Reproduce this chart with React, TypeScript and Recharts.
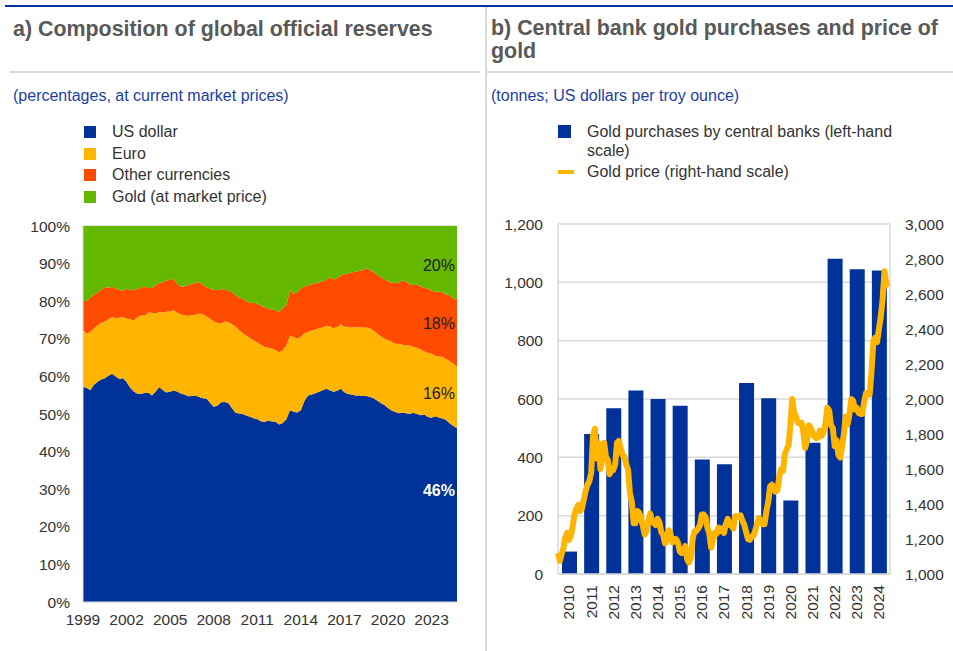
import React from 'react';
import {
  AreaChart,
  Area,
  BarChart,
  Bar,
  LineChart,
  Line,
  XAxis,
  YAxis,
  CartesianGrid,
} from 'recharts';

const FONT = 'Arial, "Liberation Sans", sans-serif';
const BLUE = '#003299';
const YELLOW = '#FFB400';
const ORANGE = '#FF4B00';
const GREEN = '#65B800';
const GRID = '#d9d9d9';
const TEXT = '#333333';

// ---- panel a: quarterly shares, 1999 Q1 - 2024 Q4 ----
const reserveQuarters = Array.from({ length: 104 }, (_, i) => 1999 + i / 4);

const usdShare = [
  57.2, 57.0, 56.3, 57.8, 58.6, 59.2, 59.5, 60.2, // 1999-2000
  60.7, 60.0, 59.3, 59.5, 58.5, 57.0, 56.0, 55.4, // 2001-2002
  55.4, 55.6, 55.7, 54.9, 56.0, 57.2, 56.3, 55.7, // 2003-2004
  56.0, 56.2, 56.0, 55.4, 55.2, 54.7, 54.8, 54.9, // 2005-2006
  54.5, 54.2, 54.1, 53.0, 51.9, 52.2, 53.1, 53.2, // 2007-2008
  52.9, 51.6, 50.3, 50.1, 50.0, 49.6, 49.3, 48.9, // 2009-2010
  48.6, 48.1, 47.9, 48.3, 48.0, 48.0, 47.2, 47.6, // 2011-2012
  48.6, 51.0, 50.6, 50.4, 51.0, 53.5, 54.9, 55.2, // 2013-2014
  55.5, 55.9, 56.3, 56.7, 56.3, 55.9, 56.2, 56.7, // 2015-2016
  55.8, 55.3, 55.2, 54.9, 54.9, 54.8, 54.8, 54.6, // 2017-2018
  54.2, 53.6, 52.9, 52.4, 51.6, 50.9, 50.5, 50.2, // 2019-2020
  50.4, 50.2, 50.0, 50.3, 50.0, 49.7, 49.9, 49.2, // 2021-2022
  49.0, 49.4, 49.1, 48.8, 48.4, 47.5, 46.8, 46.2, // 2023-2024
];

const eurShare = [
  15.1, 14.4, 15.5, 15.0, 15.0, 15.0, 15.1, 15.0,
  15.1, 15.5, 16.3, 16.3, 16.9, 18.2, 18.9, 20.4,
  20.8, 20.6, 21.3, 22.0, 20.7, 19.9, 20.7, 21.5,
  21.3, 21.4, 20.9, 21.1, 21.0, 21.4, 21.5, 21.5,
  22.2, 22.3, 21.9, 22.3, 22.8, 22.0, 21.0, 21.4,
  21.6, 22.3, 23.0, 22.2, 21.5, 21.3, 20.9, 20.7,
  20.4, 20.3, 20.0, 19.3, 19.4, 19.0, 19.2, 19.4,
  19.7, 19.8, 19.9, 19.6, 19.6, 18.0, 16.9, 17.0,
  17.0, 16.9, 16.7, 16.8, 17.0, 16.9, 17.0, 17.2,
  17.4, 17.9, 17.9, 18.2, 18.2, 18.2, 18.2, 18.2,
  18.0, 17.8, 17.8, 17.7, 18.1, 18.3, 18.2, 18.5,
  18.0, 18.1, 18.2, 17.5, 17.6, 17.5, 16.7, 17.1,
  17.0, 16.1, 16.2, 16.4, 16.2, 16.5, 16.6, 16.3,
];

const otherShare = [
  7.9, 8.6, 9.2, 8.9, 8.7, 8.8, 9.2, 8.4,
  8.0, 7.9, 7.4, 7.0, 7.9, 7.8, 8.0, 7.5,
  7.4, 7.8, 6.5, 6.6, 7.6, 7.7, 8.1, 8.3,
  8.4, 8.4, 7.6, 7.3, 7.8, 8.2, 8.3, 8.5,
  8.4, 7.8, 7.8, 8.1, 8.3, 8.7, 9.2, 8.4,
  8.4, 8.5, 8.3, 8.7, 9.1, 9.1, 9.4, 9.9,
  10.4, 10.4, 10.5, 10.4, 10.4, 10.6, 10.8, 11.0,
  10.7, 12.1, 11.5, 12.4, 12.8, 12.5, 12.4, 12.3,
  12.3, 12.2, 12.3, 12.3, 13.0, 13.0, 13.0, 13.0,
  14.0, 14.2, 14.5, 14.8, 14.9, 15.3, 15.7, 15.5,
  15.6, 15.6, 15.7, 15.7, 15.6, 15.8, 16.1, 16.3,
  17.1, 16.9, 16.4, 16.5, 16.8, 16.8, 16.9, 17.1,
  16.8, 17.0, 17.3, 17.1, 17.2, 17.5, 17.4, 17.8,
];

const goldShare = [
  19.8, 20.0, 19.0, 18.3, 17.7, 17.0, 16.2, 16.4,
  16.2, 16.6, 17.0, 17.2, 16.7, 17.0, 17.1, 16.7,
  16.4, 16.0, 16.5, 16.5, 15.7, 15.2, 14.9, 14.5,
  14.3, 14.0, 15.5, 16.2, 16.0, 15.7, 15.4, 15.1,
  14.9, 15.7, 16.2, 16.6, 17.0, 17.1, 16.7, 17.0,
  17.1, 17.6, 18.4, 19.0, 19.4, 20.0, 20.4, 20.5,
  20.6, 21.2, 21.6, 22.0, 22.2, 22.4, 22.8, 22.0,
  21.0, 17.1, 18.0, 17.6, 16.6, 16.0, 15.8, 15.5,
  15.2, 15.0, 14.7, 14.2, 13.7, 14.2, 13.8, 13.1,
  12.8, 12.6, 12.4, 12.1, 12.0, 11.7, 11.3, 11.7,
  12.2, 13.0, 13.6, 14.2, 14.7, 15.0, 15.2, 15.0,
  14.5, 14.8, 15.4, 15.7, 15.6, 16.0, 16.5, 16.6,
  17.2, 17.5, 17.4, 17.7, 18.2, 18.5, 19.2, 19.7,
];

const reserveYearTicks = [1999, 2002, 2005, 2008, 2011, 2014, 2017, 2020, 2023];
const shareTicks = [0, 10, 20, 30, 40, 50, 60, 70, 80, 90, 100];

// ---- panel b ----
const purchaseYears = [2010, 2011, 2012, 2013, 2014, 2015, 2016, 2017, 2018, 2019, 2020, 2021, 2022, 2023, 2024];
const goldPurchases = [77, 480, 568, 629, 600, 577, 393, 376, 655, 603, 252, 450, 1081, 1045, 1041];

// monthly, Jan 2010 - Dec 2024
const goldPrice = [
  1120, 1075, 1115, 1150, 1210, 1235, 1195, 1220, 1275, 1345, 1375, 1395, // 2010
  1360, 1375, 1425, 1475, 1510, 1530, 1580, 1790, 1830, 1660, 1745, 1600, // 2011
  1660, 1750, 1670, 1650, 1570, 1600, 1595, 1625, 1750, 1760, 1720, 1680, // 2012
  1670, 1625, 1595, 1460, 1415, 1290, 1290, 1360, 1350, 1320, 1275, 1225, // 2013
  1245, 1300, 1345, 1300, 1290, 1280, 1315, 1295, 1240, 1225, 1175, 1200, // 2014
  1250, 1230, 1180, 1200, 1200, 1180, 1130, 1120, 1125, 1160, 1085, 1065, // 2015
  1095, 1200, 1245, 1245, 1260, 1280, 1340, 1340, 1325, 1265, 1235, 1150, // 2016
  1195, 1235, 1230, 1265, 1245, 1260, 1235, 1285, 1315, 1280, 1280, 1260, // 2017
  1330, 1330, 1325, 1335, 1305, 1280, 1240, 1200, 1195, 1215, 1220, 1250, // 2018
  1290, 1320, 1300, 1285, 1285, 1360, 1415, 1500, 1510, 1495, 1470, 1480, // 2019
  1560, 1600, 1590, 1685, 1715, 1735, 1850, 2000, 1920, 1900, 1865, 1860, // 2020
  1865, 1810, 1720, 1760, 1850, 1835, 1810, 1785, 1775, 1780, 1820, 1790, // 2021
  1815, 1860, 1950, 1935, 1850, 1835, 1730, 1765, 1680, 1665, 1725, 1800, // 2022
  1900, 1855, 1910, 2000, 1990, 1940, 1950, 1920, 1915, 1915, 1985, 2035, // 2023
  2035, 2025, 2160, 2330, 2350, 2325, 2400, 2470, 2570, 2730, 2650, 2640, // 2024
];

const tonnesTicks = [0, 200, 400, 600, 800, 1000, 1200];
const priceTicks = [1000, 1200, 1400, 1600, 1800, 2000, 2200, 2400, 2600, 2800, 3000];
const yearBoundaries = [2010, 2011, 2012, 2013, 2014, 2015, 2016, 2017, 2018, 2019, 2020, 2021, 2022, 2023, 2024, 2025];

const reserveData = reserveQuarters.map((t, i) => ({
  t,
  usd: usdShare[i],
  eur: eurShare[i],
  other: otherShare[i],
  gold: goldShare[i],
}));

const purchaseData = purchaseYears.map((year, i) => ({ year: String(year), tonnes: goldPurchases[i] }));
const priceData = goldPrice.map((price, i) => ({ t: 2010 + i / 12, price }));

const last = reserveQuarters.length - 1;
const pct = (arr: number[]) => `${Math.round(arr[last])}%`;

const endLabel = (text: string, shift: number, color: string, bold = false) => (props: any) => {
  if (props.index !== last) return null;
  const x = props.x ?? props.viewBox?.x;
  const y = props.y ?? props.viewBox?.y;
  return (
    <text
      x={x - 2}
      y={y + shift}
      dy="0.35em"
      textAnchor="end"
      fill={color}
      fontSize={16}
      fontWeight={bold ? 700 : 400}
      fontFamily={FONT}
    >
      {text}
    </text>
  );
};

const YearTick = (props: any) => {
  const { x, y, payload } = props;
  return (
    <text
      x={x}
      y={y}
      transform={`rotate(-90, ${x}, ${y})`}
      textAnchor="end"
      dy="0.35em"
      fontSize={15.5}
      fill={TEXT}
      fontFamily={FONT}
    >
      {payload.value}
    </text>
  );
};

const tickStyle = { fontSize: 15.5, fill: TEXT, fontFamily: FONT };

const Square = ({ color }: { color: string }) => (
  <span style={{ display: 'inline-block', width: 12, height: 12, background: color }} />
);

const App: React.FC = () => {
  const legendA = [
    { label: 'US dollar', color: BLUE },
    { label: 'Euro', color: YELLOW },
    { label: 'Other currencies', color: ORANGE },
    { label: 'Gold (at market price)', color: GREEN },
  ];

  return (
    <div
      style={{
        position: 'absolute',
        left: 0,
        top: 0,
        width: 953,
        height: 651,
        background: '#fff',
        fontFamily: FONT,
        overflow: 'hidden',
      }}
    >
      {/* frame lines */}
      <div style={{ position: 'absolute', left: 5, top: 5, width: 948, height: 2, background: BLUE }} />
      <div style={{ position: 'absolute', left: 10, top: 71, width: 470, height: 2, background: GRID }} />
      <div style={{ position: 'absolute', left: 487, top: 71, width: 466, height: 2, background: GRID }} />
      <div style={{ position: 'absolute', left: 485, top: 7, width: 2, height: 644, background: GRID }} />

      {/* titles */}
      <div style={{ position: 'absolute', left: 13, top: 17, fontSize: 21.4, fontWeight: 700, color: '#595959', lineHeight: '24px' }}>
        a) Composition of global official reserves
      </div>
      <div style={{ position: 'absolute', left: 491, top: 17, fontSize: 21.4, fontWeight: 700, color: '#595959', lineHeight: '23px' }}>
        b) Central bank gold purchases and price of
        <br />
        gold
      </div>
      <div style={{ position: 'absolute', left: 13, top: 86, fontSize: 16, color: '#1a3fa6', lineHeight: '20px' }}>
        (percentages, at current market prices)
      </div>
      <div style={{ position: 'absolute', left: 491, top: 86, fontSize: 16, color: '#1a3fa6', lineHeight: '20px' }}>
        (tonnes; US dollars per troy ounce)
      </div>

      {/* legend a */}
      <div style={{ position: 'absolute', left: 84, top: 121 }}>
        {legendA.map((item) => (
          <div key={item.label} style={{ display: 'flex', alignItems: 'center', height: 21.7, fontSize: 16, color: TEXT }}>
            <Square color={item.color} />
            <span style={{ marginLeft: 16 }}>{item.label}</span>
          </div>
        ))}
      </div>

      {/* legend b */}
      <div style={{ position: 'absolute', left: 558, top: 122, fontSize: 16, color: TEXT, lineHeight: '19px' }}>
        <div style={{ display: 'flex', alignItems: 'flex-start' }}>
          <span style={{ display: 'inline-block', width: 13, height: 13, background: BLUE, marginTop: 3 }} />
          <span style={{ marginLeft: 16, width: 330 }}>Gold purchases by central banks (left-hand scale)</span>
        </div>
        <div style={{ display: 'flex', alignItems: 'center', marginTop: 2 }}>
          <span style={{ display: 'inline-block', width: 16, height: 4, background: YELLOW }} />
          <span style={{ marginLeft: 13 }}>Gold price (right-hand scale)</span>
        </div>
      </div>

      {/* panel a chart */}
      <div style={{ position: 'absolute', left: 0, top: 200 }}>
        <AreaChart width={480} height={450} data={reserveData} margin={{ top: 26, right: 23, left: 0, bottom: 0 }}>
          <CartesianGrid vertical={false} stroke={GRID} />
          <XAxis
            type="number"
            dataKey="t"
            domain={[1999, 2024.75]}
            ticks={reserveYearTicks}
            tickLine={false}
            tickSize={0}
            tickMargin={12}
            height={48}
            axisLine={{ stroke: GRID }}
            tick={tickStyle}
            interval={0}
          />
          <YAxis
            domain={[0, 100]}
            ticks={shareTicks}
            tickFormatter={(v) => `${v}%`}
            width={83}
            tickLine={false}
            tickSize={0}
            tickMargin={13}
            axisLine={{ stroke: GRID }}
            tick={tickStyle}
            interval={0}
          />
          <Area type="linear" dataKey="usd" stackId="r" stroke="none" fill={BLUE} fillOpacity={1} isAnimationActive={false}
            label={endLabel(pct(usdShare), 62, '#ffffff', true)} />
          <Area type="linear" dataKey="eur" stackId="r" stroke="none" fill={YELLOW} fillOpacity={1} isAnimationActive={false}
            label={endLabel(pct(eurShare), 26, '#1a1a1a')} />
          <Area type="linear" dataKey="other" stackId="r" stroke="none" fill={ORANGE} fillOpacity={1} isAnimationActive={false}
            label={endLabel(pct(otherShare), 23, '#1a1a1a')} />
          <Area type="linear" dataKey="gold" stackId="r" stroke="none" fill={GREEN} fillOpacity={1} isAnimationActive={false}
            label={endLabel(pct(goldShare), 39, '#1a1a1a')} />
        </AreaChart>
      </div>

      {/* panel b: bars */}
      <div style={{ position: 'absolute', left: 486, top: 200 }}>
        <BarChart width={467} height={451} data={purchaseData} margin={{ top: 24, right: 63, left: 0, bottom: 0 }}>
          <CartesianGrid vertical={false} stroke={GRID} strokeWidth={1.5} />
          <XAxis
            dataKey="year"
            height={77}
            tickLine={false}
            tickSize={0}
            tickMargin={11}
            axisLine={{ stroke: GRID, strokeWidth: 1.5 }}
            tick={(p: any) => <YearTick {...p} />}
            interval={0}
          />
          <YAxis
            domain={[0, 1200]}
            ticks={tonnesTicks}
            tickFormatter={(v) => v.toLocaleString('en-US')}
            width={72}
            tickLine={false}
            tickSize={0}
            tickMargin={15}
            axisLine={false}
            tick={tickStyle}
            interval={0}
          />
          <Bar dataKey="tonnes" fill={BLUE} barSize={15} isAnimationActive={false} />
        </BarChart>
      </div>

      {/* panel b: gold price line over the bars */}
      <div style={{ position: 'absolute', left: 486, top: 200 }}>
        <LineChart width={467} height={451} data={priceData} margin={{ top: 24, right: 0, left: 72, bottom: 77 }}>
          <CartesianGrid horizontal={false} stroke={GRID} strokeWidth={1.5} />
          <XAxis
            type="number"
            dataKey="t"
            domain={[2010, 2025]}
            ticks={yearBoundaries}
            tick={false}
            tickLine={false}
            axisLine={false}
            height={0}
            interval={0}
          />
          <YAxis
            yAxisId="price"
            orientation="right"
            domain={[1000, 3000]}
            ticks={priceTicks}
            tickFormatter={(v) => v.toLocaleString('en-US')}
            width={63}
            tickLine={false}
            tickSize={0}
            tickMargin={15}
            axisLine={false}
            tick={tickStyle}
            interval={0}
          />
          <Line
            yAxisId="price"
            type="linear"
            dataKey="price"
            stroke={YELLOW}
            strokeWidth={6}
            strokeLinejoin="round"
            dot={false}
            activeDot={false}
            isAnimationActive={false}
          />
        </LineChart>
      </div>
    </div>
  );
};

export default App;
